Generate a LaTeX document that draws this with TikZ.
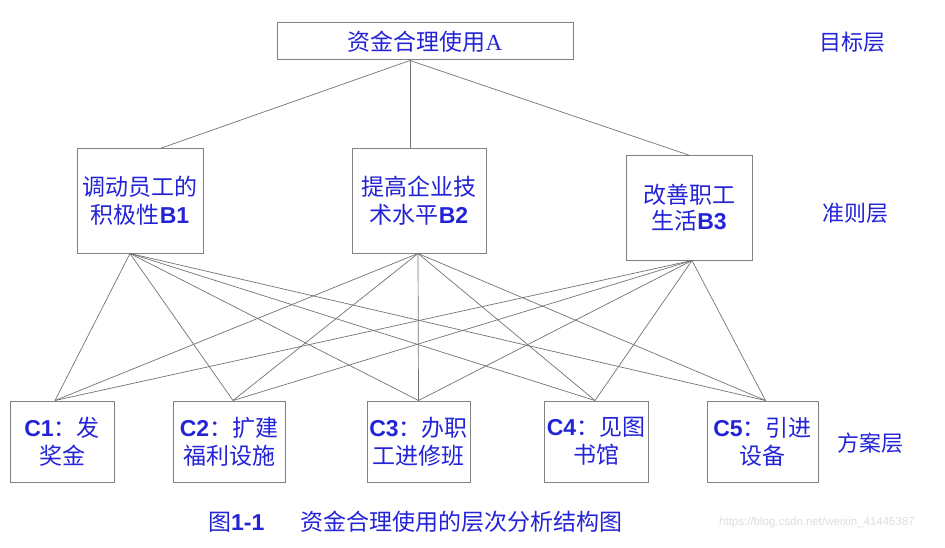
\documentclass[tikz,border=0pt]{standalone}
\usepackage{fontspec}
\setmainfont{Noto Sans CJK SC}
\newfontfamily\lat{Liberation Sans}
\newfontfamily\latserif{Liberation Serif}
\usetikzlibrary{calc}
\definecolor{txtblue}{RGB}{35,35,215}
\definecolor{boxgray}{RGB}{130,130,130}
\definecolor{linegray}{RGB}{115,115,115}
\definecolor{wmgray}{RGB}{222,222,222}
\newcommand{\LB}[1]{{\lat\bfseries #1}}
\begin{document}
\begin{tikzpicture}[x=1pt,y=-1pt,
  box/.style={draw=boxgray, line width=1pt, inner sep=0pt, text=txtblue, align=center, font=\fontsize{23}{28}\selectfont},
  link/.style={draw=linegray, line width=0.7pt},
  layer/.style={text=txtblue, font=\fontsize{22}{26}\selectfont, inner sep=0pt},
  caption/.style={text=txtblue, font=\fontsize{23}{26}\selectfont, inner sep=0pt, anchor=west}]
\useasboundingbox (0,0) rectangle (945,548);
\fill[white] (0,0) rectangle (945,548);

% goal
\node[box, minimum width=296pt, minimum height=37pt] (A) at (425,41.5) {资金合理使用{\latserif A}};
% criteria
\node[box, minimum width=126pt, minimum height=104pt] (B1) at (140,201) {调动员工的\\积极性\LB{B1}};
\node[box, minimum width=134pt, minimum height=104pt] (B2) at (419,201) {提高企业技\\术水平\LB{B2}};
\node[box, minimum width=126pt, minimum height=104pt, font=\fontsize{23}{26}\selectfont] (B3) at (689,208) {改善职工\\生活\LB{B3}};
% alternatives
\node[box, minimum width=104pt, minimum height=81pt] (C1) at (62,441.5) {\LB{C1}：发\\奖金};
\node[box, minimum width=112pt, minimum height=81pt] (C2) at (229,441.5) {\LB{C2}：扩建\\福利设施};
\node[box, minimum width=103pt, minimum height=81pt] (C3) at (418.5,441.5) {\LB{C3}：办职\\工进修班};
\node[box, minimum width=104pt, minimum height=81pt] (C4) at (596,441.5) {\LB{C4}：见图\\书馆};
\node[box, minimum width=111pt, minimum height=81pt] (C5) at (762.5,441.5) {\LB{C5}：引进\\设备};

% layer labels
\node[layer] (L1) at (852,42) {目标层};
\node[layer] (L2) at (855,213) {准则层};
\node[layer] (L3) at (870,443) {方案层};

% caption
\node[caption] (cap1) at (208,522) {图\LB{1-1}};
\node[caption] (cap2) at (300,522) {资金合理使用的层次分析结构图};
\node[anchor=west, inner sep=0pt, text=wmgray, font=\lat\fontsize{11.5}{13}\selectfont] (wm) at (719,523) {https://blog.csdn.net/weixin\_41445387};

% connection points
\coordinate (Ab) at ([xshift=-15pt]A.south);
\coordinate (B1t) at ([xshift=20pt]B1.north);
\coordinate (B2t) at ([xshift=-9pt]B2.north);
\coordinate (B3t) at ([xshift=1pt]B3.north);
\coordinate (B1b) at ([xshift=-10pt]B1.south);
\coordinate (B2b) at ([xshift=-1pt]B2.south);
\coordinate (B3b) at ([xshift=3pt]B3.south);
\coordinate (C1t) at ([xshift=-7pt]C1.north);
\coordinate (C2t) at ([xshift=4pt]C2.north);
\coordinate (C3t) at (C3.north);
\coordinate (C4t) at ([xshift=-1pt]C4.north);
\coordinate (C5t) at ([xshift=3pt]C5.north);

\foreach \b in {B1t,B2t,B3t} \draw[link] (Ab) -- (\b);
\foreach \b in {B1b,B2b,B3b}
  \foreach \c in {C1t,C2t,C3t,C4t,C5t}
    \draw[link] (\b) -- (\c);
\end{tikzpicture}
\end{document}
